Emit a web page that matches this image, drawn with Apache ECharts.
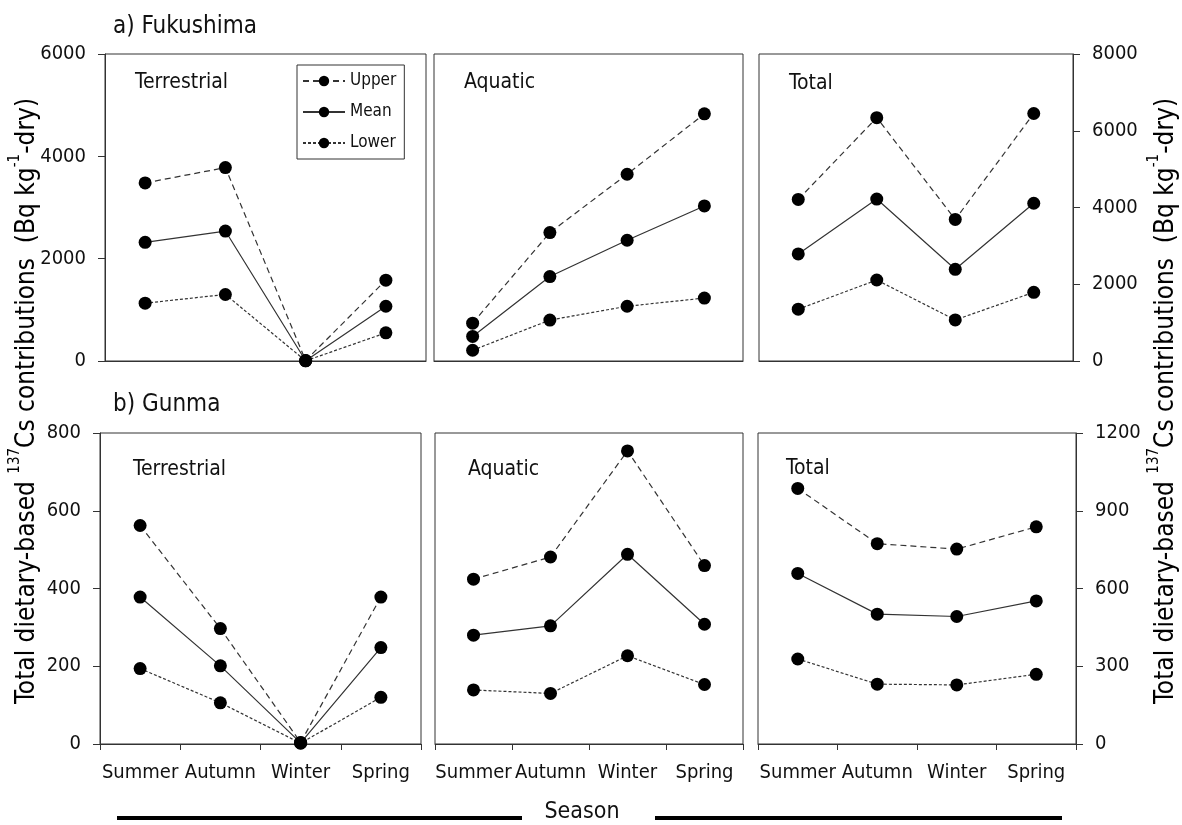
<!DOCTYPE html>
<html>
<head>
<meta charset="utf-8">
<title>Seasonal dietary 137Cs contributions</title>
<script src="https://cdn.jsdelivr.net/npm/echarts@6/dist/echarts.min.js"></script>
<style>
  html, body { margin: 0; padding: 0; background: #fff; }
  #chart { width: 1182px; height: 825px; }
</style>
</head>
<body>
<div id="chart"></div>
<script>
// Seasons on every x axis
const seasons = ['Summer', 'Autumn', 'Winter', 'Spring'];

// a) Fukushima, Bq kg-1-dry
const fkTerrUpper = [3480, 3780, 10, 1580];
const fkTerrMean  = [2320, 2540, 5, 1070];
const fkTerrLower = [1130, 1300, 3, 550];
const fkAquaUpper = [740, 2510, 3650, 4830];
const fkAquaMean  = [480, 1650, 2360, 3030];
const fkAquaLower = [210, 800, 1070, 1230];
const fkTotUpper  = [4210, 6340, 3690, 6450];
const fkTotMean   = [2790, 4220, 2390, 4110];
const fkTotLower  = [1350, 2110, 1070, 1790];

// b) Gunma, Bq kg-1-dry
const gmTerrUpper = [562, 297, 4, 378];
const gmTerrMean  = [378, 201, 3, 248];
const gmTerrLower = [194, 106, 2, 120];
const gmAquaUpper = [424, 481, 754, 459];
const gmAquaMean  = [280, 304, 488, 308];
const gmAquaLower = [139, 130, 227, 153];
const gmTotUpper  = [986, 773, 752, 838];
const gmTotMean   = [658, 501, 492, 552];
const gmTotLower  = [328, 231, 228, 269];

// Tick values of the four value scales
const fkLeftTicks  = [0, 2000, 4000, 6000];
const fkRightTicks = [0, 2000, 4000, 6000, 8000];
const gmLeftTicks  = [0, 200, 400, 600, 800];
const gmRightTicks = [0, 300, 600, 900, 1200];

const FONT = '"DejaVu Sans Condensed", "DejaVu Sans", sans-serif';
const INK = '#111';
const LINE = '#333';

const panelNames = ['Terrestrial', 'Aquatic', 'Total'];

// panel boxes [left, top, width, height]
const grids = [
  [105, 54, 321, 307], [434, 54, 309, 307], [759, 54, 314, 307],
  [100, 433, 321, 311], [435, 433, 308, 311], [758, 433, 318, 311]
];

function scaleOf(ticks) {
  return { min: ticks[0], max: ticks[ticks.length - 1], interval: ticks[1] - ticks[0] };
}

const xAxes = grids.map((g, i) => {
  const bottomRow = i >= 3;
  return {
    type: 'category', gridIndex: i, data: seasons, boundaryGap: true,
    axisLine: { show: true, lineStyle: { color: LINE, width: 1 } },
    axisTick: { show: bottomRow, length: 6, lineStyle: { color: LINE } },
    axisLabel: { show: bottomRow, interval: 0, color: INK, fontFamily: FONT, fontSize: 20, margin: 19 },
    splitLine: { show: false }
  };
});

const yScales = [fkLeftTicks, fkLeftTicks, fkRightTicks, gmLeftTicks, gmLeftTicks, gmRightTicks];
const yAxes = grids.map((g, i) => {
  const col = i % 3;
  const sc = scaleOf(yScales[i]);
  return {
    type: 'value', gridIndex: i, min: sc.min, max: sc.max, interval: sc.interval,
    position: col === 2 ? 'right' : 'left',
    axisLine: { show: col !== 1, lineStyle: { color: LINE, width: 1 } },
    axisTick: { show: col !== 1, length: 7, lineStyle: { color: LINE } },
    axisLabel: {
      show: col !== 1, color: INK, fontFamily: FONT, fontSize: 20, margin: 19,
      formatter: v => String(v)
    },
    splitLine: { show: false }
  };
});

const panelData = [
  [fkTerrUpper, fkTerrMean, fkTerrLower],
  [fkAquaUpper, fkAquaMean, fkAquaLower],
  [fkTotUpper, fkTotMean, fkTotLower],
  [gmTerrUpper, gmTerrMean, gmTerrLower],
  [gmAquaUpper, gmAquaMean, gmAquaLower],
  [gmTotUpper, gmTotMean, gmTotLower]
];

const styles = [
  { name: 'Upper', type: [6, 4] },
  { name: 'Mean', type: 'solid' },
  { name: 'Lower', type: [3, 2] }
];

const series = [];
panelData.forEach((trio, i) => {
  trio.forEach((vals, k) => {
    series.push({
      name: styles[k].name, type: 'line', xAxisIndex: i, yAxisIndex: i,
      data: vals, symbol: 'circle', symbolSize: 13,
      itemStyle: { color: '#000' },
      lineStyle: { color: LINE, width: 1.2, type: styles[k].type },
      silent: true, animation: false, z: 3
    });
  });
});

const graphics = [];
function txt(x, y, text, size, align) {
  graphics.push({
    type: 'text', x: x, y: y,
    style: { text: text, fill: INK, font: size + 'px ' + FONT, align: align || 'left', verticalAlign: 'middle' }
  });
}
txt(113, 27, 'a) Fukushima', 24);
txt(113, 405, 'b) Gunma', 24);
const labelPos = [[135, 83], [464, 83], [789, 84], [133, 470], [468, 470], [786, 469]];
labelPos.forEach((p, i) => txt(p[0], p[1], panelNames[i % 3], 21));
txt(582, 812, 'Season', 23, 'center');

// shared axis title, drawn on both sides
const axisTitleRich = {
  n: { fontFamily: FONT, fontSize: 26, color: INK, lineHeight: 32, verticalAlign: 'bottom' },
  s: { fontFamily: FONT, fontSize: 15, color: INK, lineHeight: 32, verticalAlign: 'top' }
};
const axisTitle = '{n|Total dietary-based }{s|137}{n|Cs contributions  (Bq kg}{s|-1}{n|-dry)}';
[24, 1163].forEach(x => {
  graphics.push({
    type: 'text', x: x, y: 401, rotation: Math.PI / 2,
    style: { text: axisTitle, rich: axisTitleRich, align: 'center', verticalAlign: 'middle' }
  });
});

// Season rules under the bottom row
[[117, 522], [655, 1062]].forEach(seg => {
  graphics.push({
    type: 'line', shape: { x1: seg[0], y1: 818, x2: seg[1], y2: 818 },
    style: { stroke: '#000', lineWidth: 4 }
  });
});

const chart = echarts.init(document.getElementById('chart'), null, { renderer: 'canvas' });
chart.setOption({
  backgroundColor: '#fff',
  animation: false,
  grid: grids.map(g => ({
    left: g[0], top: g[1], width: g[2], height: g[3],
    show: true, borderColor: LINE, borderWidth: 1, backgroundColor: 'transparent', containLabel: false
  })),
  xAxis: xAxes,
  yAxis: yAxes,
  legend: {
    data: ['Upper', 'Mean', 'Lower'],
    orient: 'vertical', left: 297, top: 65,
    itemWidth: 42, itemHeight: 13, itemGap: 13,
    padding: [7, 8, 7, 5],
    borderColor: LINE, borderWidth: 1,
    textStyle: { fontFamily: FONT, fontSize: 17, lineHeight: 18, color: INK },
    selectedMode: false
  },
  series: series,
  graphic: graphics
});
</script>
</body>
</html>
